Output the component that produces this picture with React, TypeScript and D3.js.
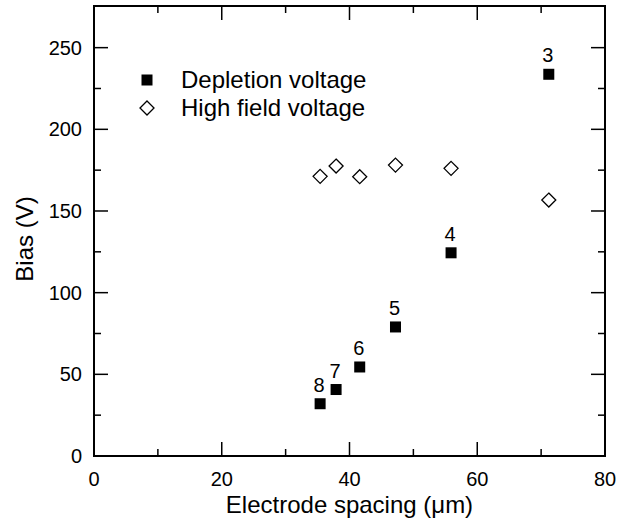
import React from "react";
import * as d3 from "d3";

const electrodeSpacing = [35.4, 37.9, 41.6, 47.2, 55.9, 71.2];
const depletionVoltage = [32, 40.7, 54.5, 79, 124.4, 233.7];
const highFieldVoltage = [171.2, 177.5, 171, 178.1, 176.1, 156.7];
const pointLabels = ["8", "7", "6", "5", "4", "3"];
const xTicks = [0, 20, 40, 60, 80];
const xMinorTicks = [10, 30, 50, 70];
const yTicks = [0, 50, 100, 150, 200, 250];
const yMinorTicks = [25, 75, 125, 175, 225];

const W = 617;
const H = 525;
const left = 94;
const right = 605;
const top = 6;
const bottom = 456;
const FONT = "Liberation Sans, Arial, Helvetica, sans-serif";

export default function App() {
  const x = d3.scaleLinear().domain([0, 80]).range([left, right]);
  const y = d3.scaleLinear().domain([0, 275.5]).range([bottom, top]);
  const major = 14;
  const minor = 7;
  const diamond = (cx: number, cy: number, r: number) =>
    `M${cx},${cy - r}L${cx + r},${cy}L${cx},${cy + r}L${cx - r},${cy}Z`;
  return (
    <svg width={W} height={H} style={{ position: "absolute", left: 0, top: 0, background: "#fff" }}>
      <rect x={0} y={0} width={W} height={H} fill="#fff" />
      <g stroke="#000" strokeWidth={1.5}>
        {xTicks.map((t) => (
          <g key={"xt" + t}>
            <line x1={x(t)} x2={x(t)} y1={bottom} y2={bottom - major} />
            <line x1={x(t)} x2={x(t)} y1={top} y2={top + major} />
          </g>
        ))}
        {xMinorTicks.map((t) => (
          <g key={"xm" + t}>
            <line x1={x(t)} x2={x(t)} y1={bottom} y2={bottom - minor} />
            <line x1={x(t)} x2={x(t)} y1={top} y2={top + minor} />
          </g>
        ))}
        {yTicks.map((t) => (
          <g key={"yt" + t}>
            <line x1={left} x2={left + major} y1={y(t)} y2={y(t)} />
            <line x1={right} x2={right - major} y1={y(t)} y2={y(t)} />
          </g>
        ))}
        {yMinorTicks.map((t) => (
          <g key={"ym" + t}>
            <line x1={left} x2={left + minor} y1={y(t)} y2={y(t)} />
            <line x1={right} x2={right - minor} y1={y(t)} y2={y(t)} />
          </g>
        ))}
      </g>
      <rect x={left} y={top} width={right - left} height={bottom - top} fill="none" stroke="#000" strokeWidth={2} />
      <g fontFamily={FONT} fontSize={20} fill="#000">
        {xTicks.map((t) => (
          <text key={"xl" + t} x={x(t)} y={bottom + 30} textAnchor="middle">
            {t}
          </text>
        ))}
        {yTicks.map((t) => (
          <text key={"yl" + t} x={left - 12} y={y(t) + 7} textAnchor="end">
            {t}
          </text>
        ))}
      </g>
      <text x={(left + right) / 2} y={513} textAnchor="middle" fontFamily={FONT} fontSize={24}>
        Electrode spacing (μm)
      </text>
      <text
        transform={`translate(33,${(top + bottom) / 2 + 8}) rotate(-90)`}
        textAnchor="middle"
        fontFamily={FONT}
        fontSize={24}
      >
        Bias (V)
      </text>
      {electrodeSpacing.map((v, i) => (
        <path key={"hf" + i} d={diamond(x(v), y(highFieldVoltage[i]), 7)} fill="#fff" stroke="#000" strokeWidth={1.3} />
      ))}
      {electrodeSpacing.map((v, i) => (
        <rect key={"dv" + i} x={x(v) - 5.5} y={y(depletionVoltage[i]) - 5.5} width={11} height={11} fill="#000" />
      ))}
      {electrodeSpacing.map((v, i) => (
        <text
          key={"pl" + i}
          x={x(v) - 1}
          y={y(depletionVoltage[i]) - 12}
          textAnchor="middle"
          fontFamily={FONT}
          fontSize={20}
        >
          {pointLabels[i]}
        </text>
      ))}
      <rect x={147 - 5.5} y={80 - 5.5} width={11} height={11} fill="#000" />
      <text x={181} y={88} fontFamily={FONT} fontSize={24}>
        Depletion voltage
      </text>
      <path d={diamond(147, 108, 7)} fill="#fff" stroke="#000" strokeWidth={1.3} />
      <text x={181} y={116} fontFamily={FONT} fontSize={24}>
        High field voltage
      </text>
    </svg>
  );
}
